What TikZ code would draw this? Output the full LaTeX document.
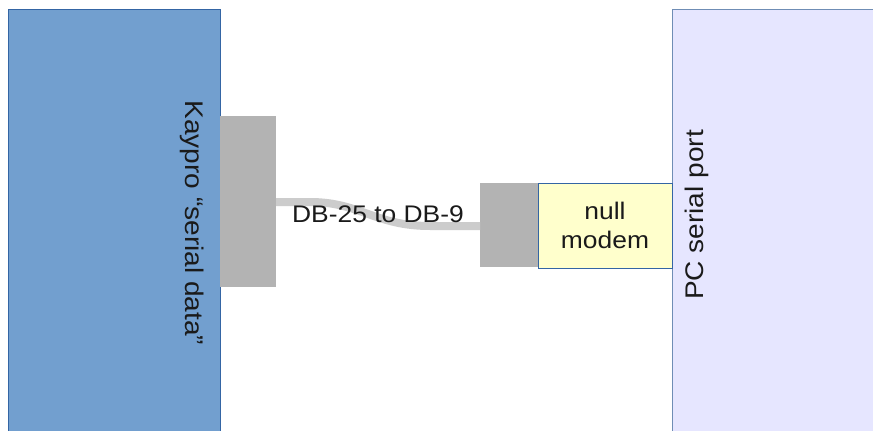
\documentclass[tikz,border=0pt]{standalone}
\usepackage{fontspec}
\setmainfont{Liberation Sans}[FakeStretch=1.1]
\definecolor{kblue}{HTML}{729FCF}
\definecolor{kborder}{HTML}{3465A4}
\definecolor{conngray}{HTML}{B3B3B3}
\definecolor{cablegray}{HTML}{CCCCCC}
\definecolor{nullyellow}{HTML}{FFFFCC}
\definecolor{pclav}{HTML}{E6E6FF}
\definecolor{pcborder}{HTML}{6F8DB5}
\definecolor{txt}{HTML}{1A1A1A}
\begin{document}
\begin{tikzpicture}[x=1pt,y=-1pt,
  box/.style={rectangle, inner sep=0pt, outer sep=0pt, anchor=north west},
  lbl/.style={font=\fontsize{24}{28}\selectfont, text=txt, inner sep=0pt},
  rlbl/.style={lbl, font=\fontsize{25.5}{28}\selectfont},
  cable/.style={draw=cablegray, line width=8pt}]
\useasboundingbox (0,0) rectangle (873,431);
\fill[white] (0,0) rectangle (873,431);
% Kaypro
\node[box, fill=kblue, draw=kborder, line width=0.8pt, minimum width=212pt, minimum height=430pt] (kaypro) at (8,9) {};
\node[box, fill=conngray, minimum width=56pt, minimum height=171pt] (conn1) at (220,115.5) {};
% PC
\node[box, fill=pclav, draw=pcborder, line width=0.8pt, minimum width=230pt, minimum height=430pt] (pc) at (672,9) {};
\node[box, fill=conngray, minimum width=58pt, minimum height=84pt] (conn2) at (480,183) {};
\node[box, fill=nullyellow, draw=kborder, line width=0.8pt, minimum width=134pt, minimum height=85pt] (null) at (538,183) {};
% cable
\coordinate (c1) at (276,202);
\coordinate (c2) at (480,226);
\draw[cable] (c1) -- (310,202) .. controls (360,202) and (375,226) .. (430,226) -- (c2);
% labels
\node[lbl, anchor=base] (dblbl) at (378,222) {DB-25 to DB-9};
\node[rlbl, rotate=-90, anchor=base] (klbl) at (185.5,223) {Kaypro “serial data”};
\node[rlbl, rotate=90, anchor=base] (pclbl) at (703.5,215) {PC serial port};
\node[lbl, align=center, font=\fontsize{24}{28.5}\selectfont] (nmlbl) at (null.center) {null\\modem};
\end{tikzpicture}
\end{document}
